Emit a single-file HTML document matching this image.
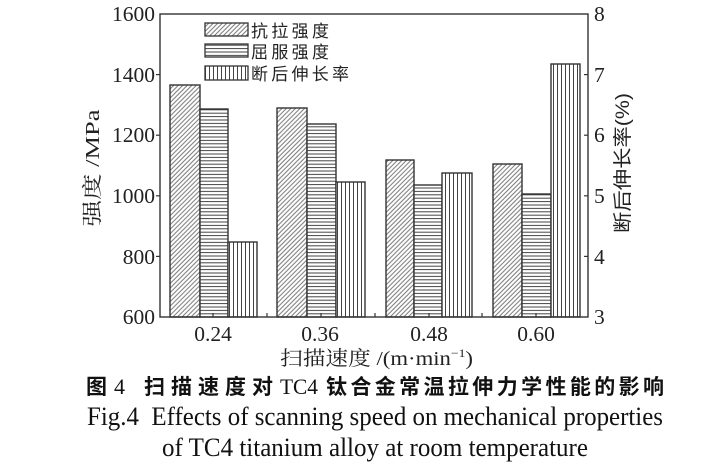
<!DOCTYPE html>
<html><head><meta charset="utf-8"><style>
html,body{margin:0;padding:0;background:#fff;}
svg{display:block;}
</style></head><body>
<svg width="728" height="475" viewBox="0 0 728 475" xmlns="http://www.w3.org/2000/svg">
<defs>
<pattern id="diag" patternUnits="userSpaceOnUse" width="3.2" height="3.2" patternTransform="rotate(45)">
<rect width="3.2" height="3.2" fill="#fff"/>
<line x1="0.8" y1="0" x2="0.8" y2="3.2" stroke="#777" stroke-width="1"/>
</pattern>
<pattern id="horiz" patternUnits="userSpaceOnUse" width="10" height="3.4">
<rect width="10" height="3.4" fill="#fff"/>
<line x1="0" y1="1" x2="10" y2="1" stroke="#444" stroke-width="1"/>
</pattern>
<pattern id="vert" patternUnits="userSpaceOnUse" width="4" height="10">
<rect width="4" height="10" fill="#fff"/>
<line x1="1.5" y1="0" x2="1.5" y2="10" stroke="#444" stroke-width="1"/>
</pattern>
</defs>
<rect width="728" height="475" fill="#fff"/>

<!-- bars -->
<g stroke="#333" stroke-width="1.4">
<rect x="170" y="85" width="30" height="232" fill="url(#diag)"/>
<rect x="200" y="109" width="28" height="208" fill="url(#horiz)"/>
<rect x="228" y="242" width="29" height="75" fill="url(#vert)"/>

<rect x="277" y="108" width="30" height="209" fill="url(#diag)"/>
<rect x="307" y="124" width="29" height="193" fill="url(#horiz)"/>
<rect x="336" y="182" width="29" height="135" fill="url(#vert)"/>

<rect x="386" y="160" width="28" height="157" fill="url(#diag)"/>
<rect x="414" y="185" width="28" height="132" fill="url(#horiz)"/>
<rect x="442" y="173" width="30" height="144" fill="url(#vert)"/>

<rect x="493" y="164" width="29" height="153" fill="url(#diag)"/>
<rect x="522" y="194" width="29" height="123" fill="url(#horiz)"/>
<rect x="551" y="64" width="29" height="253" fill="url(#vert)"/>
</g>

<!-- frame -->
<rect x="160" y="14" width="428" height="303" fill="none" stroke="#333" stroke-width="1.4"/>

<!-- ticks -->
<g stroke="#333" stroke-width="1.2">
<line x1="156" y1="74.6" x2="160" y2="74.6"/>
<line x1="156" y1="135.2" x2="160" y2="135.2"/>
<line x1="156" y1="195.8" x2="160" y2="195.8"/>
<line x1="156" y1="256.4" x2="160" y2="256.4"/>
<line x1="584" y1="74.6" x2="588" y2="74.6"/>
<line x1="584" y1="135.2" x2="588" y2="135.2"/>
<line x1="584" y1="195.8" x2="588" y2="195.8"/>
<line x1="584" y1="256.4" x2="588" y2="256.4"/>
<line x1="267" y1="313" x2="267" y2="317"/>
<line x1="375" y1="313" x2="375" y2="317"/>
<line x1="482" y1="313" x2="482" y2="317"/>
<line x1="213" y1="313" x2="213" y2="317"/>
<line x1="321" y1="313" x2="321" y2="317"/>
<line x1="429" y1="313" x2="429" y2="317"/>
<line x1="536" y1="313" x2="536" y2="317"/>
</g>

<!-- left tick labels -->
<g font-family="'Liberation Serif', serif" font-size="21.5" fill="#222" text-anchor="end">
<text x="155" y="21">1600</text>
<text x="155" y="82">1400</text>
<text x="155" y="142">1200</text>
<text x="155" y="203">1000</text>
<text x="155" y="264">800</text>
<text x="155" y="324">600</text>
</g>
<!-- right tick labels -->
<g font-family="'Liberation Serif', serif" font-size="21.5" fill="#222" text-anchor="start">
<text x="594" y="21">8</text>
<text x="594" y="82">7</text>
<text x="594" y="142">6</text>
<text x="594" y="203">5</text>
<text x="594" y="264">4</text>
<text x="594" y="324">3</text>
</g>
<!-- x tick labels -->
<g font-family="'Liberation Serif', serif" font-size="21.5" fill="#222" text-anchor="middle">
<text x="213" y="341">0.24</text>
<text x="320" y="341">0.36</text>
<text x="429" y="341">0.48</text>
<text x="536" y="341">0.60</text>
</g>

<!-- axis labels -->
<text x="280" y="365" font-family="'Liberation Serif','Noto Serif CJK SC',serif" font-size="20" fill="#222" textLength="193" lengthAdjust="spacingAndGlyphs">扫描速度 /(m·min<tspan font-size="12" dy="-8">−1</tspan><tspan dy="8">)</tspan></text>

<text transform="translate(99,168) rotate(-90)" text-anchor="middle" font-family="'Liberation Serif','Noto Serif CJK SC',serif" font-size="20" fill="#222" textLength="117" lengthAdjust="spacingAndGlyphs">强度 /MPa</text>

<text transform="translate(629,163) rotate(-90)" text-anchor="middle" font-family="'Liberation Sans','Noto Sans CJK SC',sans-serif" font-size="19" fill="#222" textLength="140" lengthAdjust="spacingAndGlyphs">断后伸长率(%)</text>

<!-- legend -->
<g stroke="#333" stroke-width="1.3">
<rect x="205" y="23" width="43" height="13" fill="url(#diag)"/>
<rect x="205" y="44" width="43" height="13" fill="url(#horiz)"/>
<rect x="205" y="66" width="43" height="14" fill="url(#vert)"/>
</g>
<g font-family="'Liberation Sans','Noto Sans CJK SC',sans-serif" font-size="17" fill="#222">
<text x="251" y="37" textLength="78" lengthAdjust="spacing">抗拉强度</text>
<text x="251" y="58" textLength="78" lengthAdjust="spacing">屈服强度</text>
<text x="251" y="80" textLength="98" lengthAdjust="spacing">断后伸长率</text>
</g>

<!-- caption -->
<g fill="#111">
<text x="86" y="394" font-family="'Noto Sans CJK SC',sans-serif" font-weight="bold" font-size="21">图</text>
<text x="114" y="394" font-family="'Liberation Serif',serif" font-size="22">4</text>
<text x="144" y="394" font-family="'Noto Sans CJK SC',sans-serif" font-weight="bold" font-size="21" textLength="129" lengthAdjust="spacing">扫描速度对</text>
<text x="280" y="394" font-family="'Liberation Serif',serif" font-size="22" textLength="38" lengthAdjust="spacingAndGlyphs">TC4</text>
<text x="326" y="394" font-family="'Noto Sans CJK SC',sans-serif" font-weight="bold" font-size="21" textLength="338" lengthAdjust="spacing">钛合金常温拉伸力学性能的影响</text>
<text x="87" y="425" font-family="'Liberation Serif',serif" font-size="26" textLength="576" lengthAdjust="spacingAndGlyphs" xml:space="preserve">Fig.4  Effects of scanning speed on mechanical properties</text>
<text x="162" y="456" font-family="'Liberation Serif',serif" font-size="26" textLength="426" lengthAdjust="spacingAndGlyphs">of TC4 titanium alloy at room temperature</text>
</g>
</svg>
</body></html>
